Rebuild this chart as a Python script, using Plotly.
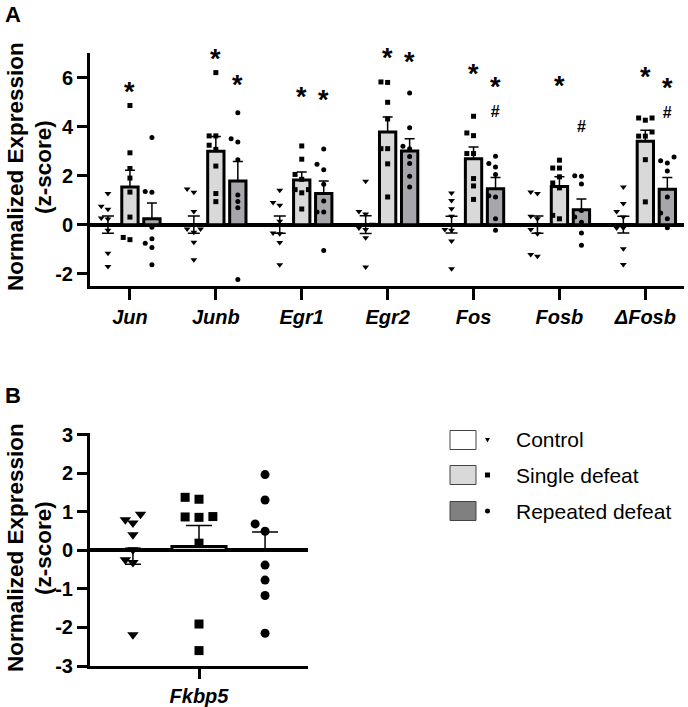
import plotly.graph_objects as go

# ---------------- data ----------------
genes = ["Jun", "Junb", "Egr1", "Egr2", "Fos", "Fosb", "ΔFosb"]
groups = ["Control", "Single defeat", "Repeated defeat"]

control_pts = [
    [1.27, 0.75, 0.63, 0.27, 0.23, -0.23, -1.16, -1.70],
    [1.46, 1.32, 0.54, -0.18, -0.31, -0.18, -0.72, -1.43],
    [1.40, 0.90, 0.79, 0.14, -0.34, -0.37, -0.73, -1.63],
    [1.77, 0.54, 0.44, 0.02, -0.14, -0.20, -0.53, -1.73],
    [1.29, 0.99, 0.65, 0.34, -0.23, -0.20, -0.67, -1.80],
    [1.27, 1.33, 0.24, 0.34, -0.37, -0.20, -1.29, -1.22],
    [1.54, 0.86, 0.54, 0.31, -0.14, -0.14, -0.98, -1.62],
]
single_pts = [
    [4.86, 2.93, 2.29, 1.90, 1.33, 0.31, -0.61, -0.52],
    [6.20, 3.62, 3.62, 3.24, 3.07, 2.39, 1.27, 0.94],
    [3.21, 2.67, 2.05, 1.85, 1.43, 1.43, 1.30, 0.64],
    [5.80, 5.82, 4.99, 4.31, 3.10, 3.10, 2.48, 1.13],
    [4.42, 3.74, 3.63, 2.90, 2.90, 1.88, 1.58, 1.03],
    [2.63, 2.31, 2.31, 1.95, 1.70, 1.50, 0.38, 0.24],
    [4.35, 4.26, 4.35, 3.61, 3.78, 3.61, 2.65, 0.93],
]
repeated_pts = [
    [3.55, 1.35, 1.32, -0.10, -0.57, -0.76, -0.93, -1.63],
    [4.56, 3.50, 3.37, 2.65, 1.21, 0.95, 0.69, -2.24],
    [3.09, 2.46, 2.24, 1.65, 0.97, 0.52, 0.52, -1.05],
    [5.37, 3.95, 3.20, 3.10, 2.78, 2.49, 1.97, 1.54],
    [2.79, 2.49, 2.35, 2.05, 1.18, 1.13, 0.24, -0.23],
    [1.97, 2.00, 1.66, 0.58, 0.31, 0.10, -0.34, -0.84],
    [2.61, 2.76, 2.52, 2.19, 1.13, 0.48, 0.24, -0.12],
]

control_mean = [0.0, 0.0, 0.0, 0.0, 0.0, 0.0, 0.0]
control_sem = [0.35, 0.35, 0.35, 0.36, 0.34, 0.35, 0.34]
single_mean = [1.54, 2.99, 1.82, 3.78, 2.69, 1.56, 3.40]
single_sem = [0.68, 0.61, 0.33, 0.61, 0.48, 0.39, 0.45]
repeated_mean = [0.24, 1.78, 1.27, 3.00, 1.47, 0.61, 1.44]
repeated_sem = [0.64, 0.80, 0.51, 0.50, 0.45, 0.44, 0.48]

# significance marks (y value of glyph centre); None = no mark
star_single = [5.60, 6.94, 5.43, 6.98, 6.33, 5.85, 6.23]
star_repeated = [None, 5.90, 5.30, 6.82, 5.65, None, 5.59]
hash_repeated = [None, None, None, None, 4.83, 4.01, 4.83]

y_ticks = [-2, 0, 2, 4, 6]
y_ticktext = ["-2", "0", "2", "4", "6"]

# panel B
fk_gene = "Fkbp5"
fk_control = [0.80, 0.94, 0.71, 0.41, 0.02, -0.24, -0.31, -2.19]
fk_single = [1.38, 1.33, 0.88, 0.87, 0.86, 0.19, -1.91, -2.60]
fk_repeated = [1.97, 1.31, 0.69, 0.50, -0.38, -0.77, -1.17, -2.15]
fk_mean = [-0.15, 0.10, 0.0]
fk_sem = [0.21, 0.55, 0.48]
y2_ticks = [-3, -2, -1, 0, 1, 2, 3]
y2_ticktext = ["-3", "-2", "-1", "0", "1", "2", "3"]

# ---------------- styling ----------------
FONT = "Arial, Liberation Sans, sans-serif"
BAR_COLORS = ["#ffffff", "#d9d9d9", "#a7a7ab"]
LEG_COLORS = ["#ffffff", "#d9d9d9", "#808080"]
SYMBOLS = ["triangle-down", "square", "circle"]
W, H = 688, 707


def swarm(vals, step, gap):
    order = sorted(range(len(vals)), key=lambda i: vals[i])
    placed = []
    offs = [0.0] * len(vals)
    for i in order:
        y = vals[i]
        chosen = 0.0
        for k in [0, -1, 1, -2, 2, -3, 3]:
            o = k * step
            ok = all(abs(y - py_) >= gap or abs(o - po) >= step * 0.99 for py_, po in placed)
            if ok:
                chosen = o
                break
        offs[i] = chosen
        placed.append((y, chosen))
    return offs


fig = go.Figure()

# ---------------- panel A ----------------
GOFF = [-0.256, 0.0, 0.256]
idx = list(range(len(genes)))

# control error bars (no visible bar)
fig.add_trace(go.Scatter(
    x=[i + GOFF[0] for i in idx], y=control_mean, mode="markers",
    marker=dict(size=1, color="rgba(0,0,0,0)"),
    error_y=dict(type="data", array=control_sem, symmetric=True,
                 color="black", thickness=1.5, width=6),
    xaxis="x", yaxis="y", showlegend=False, hoverinfo="skip"))

for g, means, sems in [(1, single_mean, single_sem), (2, repeated_mean, repeated_sem)]:
    fig.add_trace(go.Bar(
        x=[i + GOFF[g] for i in idx], y=means, width=0.19,
        marker=dict(color=BAR_COLORS[g], line=dict(color="black", width=3)),
        error_y=dict(type="data", array=sems, arrayminus=[0] * len(sems),
                     symmetric=False, color="black", thickness=1.5, width=5),
        xaxis="x", yaxis="y", showlegend=False))

for g, pts in enumerate([control_pts, single_pts, repeated_pts]):
    xs, ys = [], []
    for i, vals in enumerate(pts):
        offs = swarm(vals, 0.078, 0.25)
        xs += [i + GOFF[g] + o for o in offs]
        ys += vals
    fig.add_trace(go.Scatter(
        x=xs, y=ys, mode="markers",
        marker=dict(symbol=SYMBOLS[g], size=5 if g else 6, color="black", line=dict(width=0)),
        xaxis="x", yaxis="y", showlegend=False))

STAR = "<b><span style='font-size:27px'>*</span></b>"
HASH = "<b>#</b>"
annotations = []
for i in idx:
    # single defeat star
    annotations.append(dict(
        x=i + GOFF[1], y=star_single[i], xref="x", yref="y", text=STAR,
        showarrow=False, xanchor="center", yanchor="middle",
        font=dict(family=FONT, size=16, color="black"), yshift=-5))
    s, h = star_repeated[i], hash_repeated[i]
    if s is not None and h is not None:
        # star above hash, one two-line mark
        annotations.append(dict(
            x=i + GOFF[2], y=(s + h) / 2, xref="x", yref="y", text=STAR + "<br>" + HASH,
            showarrow=False, xanchor="center", yanchor="middle",
            font=dict(family=FONT, size=16, color="black"), yshift=0))
    elif s is not None:
        annotations.append(dict(
            x=i + GOFF[2], y=s, xref="x", yref="y", text=STAR,
            showarrow=False, xanchor="center", yanchor="middle",
            font=dict(family=FONT, size=16, color="black"), yshift=-5))
    elif h is not None:
        annotations.append(dict(
            x=i + GOFF[2], y=h, xref="x", yref="y", text=HASH,
            showarrow=False, xanchor="center", yanchor="middle",
            font=dict(family=FONT, size=16, color="black")))

# ---------------- panel B ----------------
BOFF = [-1.0, 0.0, 1.0]
fig.add_trace(go.Bar(
    x=[BOFF[1]], y=[fk_mean[1]], width=0.82,
    marker=dict(color=BAR_COLORS[1], line=dict(color="black", width=3)),
    error_y=dict(type="data", array=[fk_sem[1]], arrayminus=[0], symmetric=False,
                 color="black", thickness=1.5, width=13),
    xaxis="x2", yaxis="y2", showlegend=False))
fig.add_trace(go.Scatter(
    x=[BOFF[0]], y=[fk_mean[0]], mode="markers", marker=dict(size=1, color="rgba(0,0,0,0)"),
    error_y=dict(type="data", array=[fk_sem[0]], symmetric=True,
                 color="black", thickness=1.5, width=8),
    xaxis="x2", yaxis="y2", showlegend=False, hoverinfo="skip"))
fig.add_trace(go.Scatter(
    x=[BOFF[2]], y=[fk_mean[2]], mode="markers", marker=dict(size=1, color="rgba(0,0,0,0)"),
    error_y=dict(type="data", array=[fk_sem[2]], arrayminus=[0], symmetric=False,
                 color="black", thickness=1.5, width=13),
    xaxis="x2", yaxis="y2", showlegend=False, hoverinfo="skip"))

for g, vals in enumerate([fk_control, fk_single, fk_repeated]):
    offs = swarm(vals, [0.115, 0.21, 0.15][g], 0.25)
    fig.add_trace(go.Scatter(
        x=[BOFF[g] + o for o in offs], y=vals, mode="markers",
        marker=dict(symbol=SYMBOLS[g], size=[10, 9, 9][g], color="black", line=dict(width=0)),
        xaxis="x2", yaxis="y2", showlegend=False))


# ---------------- text / legend in pixel coordinates ----------------
def px(x):
    return x / W


def py(y):
    return 1 - y / H


bold = dict(family=FONT, size=20, color="black", weight="bold")


def paper_text(x, y, text, size, angle=0, xanchor="center"):
    return dict(x=px(x), y=py(y), xref="paper", yref="paper", text=text, showarrow=False,
                textangle=angle, xanchor=xanchor, yanchor="middle",
                font=dict(family=FONT, size=size, color="black"))


annotations += [
    paper_text(3, 14, "<b>A</b>", 22, xanchor="left"),
    paper_text(3, 395, "<b>B</b>", 22, xanchor="left"),
    paper_text(15, 167, "<b>Normalized Expression</b>", 22.5, -90),
    paper_text(43, 167, "<b>(z-score)</b>", 22.5, -90),
    paper_text(15, 548, "<b>Normalized Expression</b>", 22.5, -90),
    paper_text(43, 548, "<b>(z-score)</b>", 22.5, -90),
]

shapes = []
leg_rows = [440, 475, 511]
for g, name in enumerate(groups):
    yc = leg_rows[g]
    shapes.append(dict(type="rect", xref="paper", yref="paper",
                       x0=px(450), x1=px(476), y0=py(yc - 9.5), y1=py(yc + 9.5),
                       fillcolor=LEG_COLORS[g], line=dict(color="#444444", width=1)))
    mx = 487.5
    if g == 0:
        shapes.append(dict(type="path", xref="paper", yref="paper",
                           path="M %f %f L %f %f L %f %f Z" % (px(mx - 2.5), py(yc - 2), px(mx + 2.5), py(yc - 2), px(mx), py(yc + 2.5)),
                           fillcolor="black", line=dict(width=0)))
    elif g == 1:
        shapes.append(dict(type="rect", xref="paper", yref="paper",
                           x0=px(mx - 2.5), x1=px(mx + 2.5), y0=py(yc - 2.5), y1=py(yc + 2.5),
                           fillcolor="black", line=dict(width=0)))
    else:
        shapes.append(dict(type="circle", xref="paper", yref="paper",
                           x0=px(mx - 2.5), x1=px(mx + 2.5), y0=py(yc - 2.5), y1=py(yc + 2.5),
                           fillcolor="black", line=dict(width=0)))
    annotations.append(paper_text(514, yc, name, 21, xanchor="left"))

axis_common = dict(showline=True, linewidth=3, linecolor="black", ticks="outside",
                   tickwidth=3, tickcolor="black", showgrid=False, mirror=False,
                   automargin=False)

fig.update_layout(
    width=W, height=H, margin=dict(l=0, r=0, t=0, b=0, autoexpand=False),
    paper_bgcolor="white", plot_bgcolor="white", barmode="overlay",
    showlegend=False,
    xaxis=dict(domain=[px(90), px(684)], range=[-0.465, 6.45], anchor="y",
               tickvals=idx, ticktext=genes, ticklen=11, zeroline=False,
               tickfont=dict(family=FONT, size=20, color="black", weight="bold", style="italic"),
               **axis_common),
    yaxis=dict(domain=[py(286), py(53)], range=[-2.5, 7.0], anchor="x",
               tickvals=y_ticks, ticktext=y_ticktext, ticklen=10,
               zeroline=True, zerolinewidth=3.5, zerolinecolor="black",
               tickfont=bold, **axis_common),
    xaxis2=dict(domain=[px(90), px(308)], range=[-1.65, 1.65], anchor="y2",
                tickvals=[0], ticktext=[fk_gene], ticklen=10, zeroline=False,
                tickfont=dict(family=FONT, size=20, color="black", weight="bold", style="italic"),
                **axis_common),
    yaxis2=dict(domain=[py(666), py(433)], range=[-3.0, 3.05], anchor="x2",
                tickvals=y2_ticks, ticktext=y2_ticktext, ticklen=10,
                zeroline=True, zerolinewidth=3.5, zerolinecolor="black",
                tickfont=bold, **axis_common),
    annotations=annotations, shapes=shapes,
)

fig.write_html("out.html")
